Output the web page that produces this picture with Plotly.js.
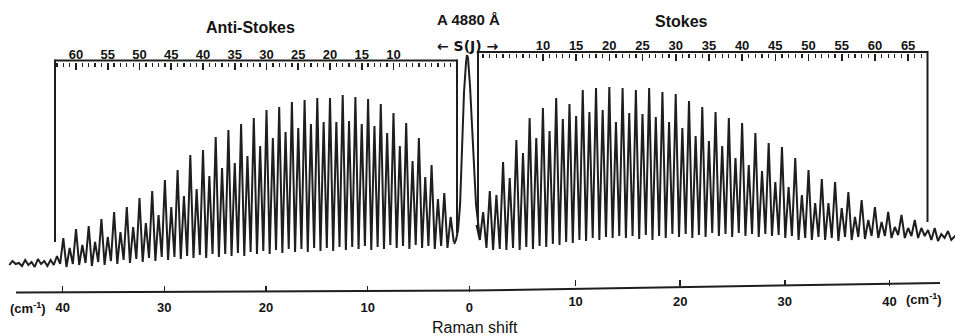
<!DOCTYPE html>
<html><head><meta charset="utf-8">
<script src="https://cdn.plot.ly/plotly-3.0.1.min.js"></script>
<style>html,body{margin:0;padding:0;background:#fff}#chart{width:955px;height:336px}</style>
</head><body><div id="chart"></div>
<script>
// ---- Data (intensity in arbitrary units) ----
// Anti-Stokes S(J) lines
const antiStokesJ = [1,2,3,4,5,6,7,8,9,10,11,12,13,14,15,16,17,18,19,20,21,22,23,24,25,26,27,28,29,30,31,32,33,34,35,36,37,38,39,40,41,42,43,44,45,46,47,48,49,50,51,52,53,54,55,56,57,58,59,60,61,62];
const antiStokesPeak = [53,77,71,105,93,132,109,147,124,157,137,166,144,171,146,173,149,175,148,172,148,172,146,170,142,168,138,163,132,160,124,152,114,146,107,140,102,133,94,120,81,115,74,100,63,90,55,79,47,72,43,63,38,58,33,51,28,44,25,41,22,32];
// valley level just outside each line (first value: inside J=1)
const antiStokesValley = [28,22,24,21,24,22,25,21,24,22,25,21,23,20,24,21,23,20,23,19,22,19,22,18,21,18,21,17,20,16,19,16,18,14,17,14,16,13,16,12,15,12,14,11,13,10,13,9,12,8,11,7,10,6,9,5,8,4,7,5,6,3,6];
// baseline noise beyond the anti-Stokes scale
const antiStokesTailJ = [63,63.5,64,64.5,65,65.5,66,66.5,67,67.5,68,68.5,69,69.5,70,70.5];
const antiStokesTailI = [14,5,10,4,9,6,11,3,8,5,10,4,7,6,9,5];

// Stokes S(J) lines
const stokesJ = [0,1,2,3,4,5,6,7,8,9,10,11,12,13,14,15,16,17,18,19,20,21,22,23,24,25,26,27,28,29,30,31,32,33,34,35,36,37,38,39,40,41,42,43,44,45,46,47,48,49,50,51,52,53,54,55,56,57,58,59,60,61,62,63,64,65,66,67];
const stokesPeak = [45,58,79,75,108,92,130,117,152,132,162,139,172,151,166,154,180,158,182,160,183,148,182,157,180,156,182,153,178,148,176,142,169,134,163,129,158,124,152,112,147,105,137,99,127,88,123,83,112,75,100,67,91,67,88,62,78,53,70,50,63,48,58,43,55,42,50,42];
const stokesValley = [30,22,20,21,20,22,20,23,21,24,23,26,25,28,27,30,29,32,30,33,32,34,32,34,31,35,30,34,32,36,33,36,32,35,33,37,34,36,33,37,34,36,33,36,34,35,32,34,30,32,30,33,30,32,29,33,30,33,31,34,32,34,32,35,32,34,32,34];
const stokesTailJ = [68,68.5,69,69.5,70,70.5,71,71.5,72.2];
const stokesTailI = [40,30,42,29,36,32,39,30,35];

// Rayleigh (exciting) line, Raman shift in cm-1: anti-Stokes flank and Stokes flank
const rayleighAntiShift = [1.51,1.32,1.12,0.92,0.73,0.53,0.33,0.24];
const rayleighAntiI = [26,30,40,65,120,178,208,215];
const rayleighStokesShift = [-0.38,-0.29,-0.1,0.1,0.29,0.48,0.67,0.86];
const rayleighStokesI = [215,212,185,140,95,65,48,30];

// Axis tick labels
const shiftTicksLeft = [0,10,20,30,40];
const shiftTicksRight = [10,20,30,40];
const antiStokesLabels = [10,15,20,25,30,35,40,45,50,55,60];
const stokesLabels = [10,15,20,25,30,35,40,45,50,55,60,65];

// ---- Build line paths (peak, then valley half-way to next line) ----
function spectrumPath(J, peak, valley, tailJ, tailI, valleyFirst) {
  const x = [], y = [];
  if (valleyFirst) { x.push(J[0] - 0.5); y.push(valley[0]); }
  const off = valleyFirst ? 1 : 0;
  for (let i = 0; i < J.length; i++) {
    x.push(J[i]); y.push(peak[i]);
    x.push(J[i] + 0.5); y.push(valley[i + off]);
  }
  for (let i = 0; i < tailJ.length; i++) { x.push(tailJ[i]); y.push(tailI[i]); }
  return {x, y};
}
const asPath = spectrumPath(antiStokesJ, antiStokesPeak, antiStokesValley, antiStokesTailJ, antiStokesTailI, true);
const stPath = spectrumPath(stokesJ, stokesPeak, stokesValley, stokesTailJ, stokesTailI, false);

const ink = '#1e1e1e';
const lineStyle = {color: ink, width: 2};
const traces = [
  {type:'scatter', mode:'lines', x: asPath.x, y: asPath.y, xaxis:'x2', yaxis:'y', line: lineStyle, hoverinfo:'skip'},
  {type:'scatter', mode:'lines', x: stPath.x, y: stPath.y, xaxis:'x3', yaxis:'y', line: lineStyle, hoverinfo:'skip'},
  {type:'scatter', mode:'lines', x: rayleighAntiShift, y: rayleighAntiI, xaxis:'x', yaxis:'y', line: lineStyle, hoverinfo:'skip'},
  {type:'scatter', mode:'lines', x: rayleighStokesShift, y: rayleighStokesI, xaxis:'x4', yaxis:'y', line: lineStyle, hoverinfo:'skip'}
];

// ---- Layout helpers (pixel -> paper) ----
const W = 955, H = 336;
const PX = p => p / W, PY = p => 1 - p / H;
const font = 'Liberation Sans, Arial, Helvetica, sans-serif';
const textColor = '#141414';

const asMinor = [], stMinor = [];
for (let j = 0; j <= 63; j++) asMinor.push(j);
for (let j = 1; j <= 67; j++) stMinor.push(j);

const rulerAxis = (range, pos, labels, minor) => ({
  domain:[0,1], range: range, anchor:'free', position: PY(pos), side:'top',
  tickmode:'array', tickvals: labels, ticktext: labels.map(String),
  ticks:'inside', ticklen:7, tickwidth:1.6, tickcolor: ink,
  minor: {tickmode:'array', tickvals: minor, ticks:'inside', ticklen:4, tickwidth:1.3, tickcolor: ink},
  showline:false, showgrid:false, zeroline:false, fixedrange:true,
  tickfont:{family: font, size:13, color: textColor, weight:'bold'}, ticklabelstandoff: 0
});
const shiftAxis = (range, pos, ticks) => ({
  domain:[0,1], range: range, anchor:'free', position: PY(pos), side:'bottom',
  tickmode:'array', tickvals: ticks, ticktext: ticks.map(String),
  ticks:'inside', ticklen:6, tickwidth:1.5, tickcolor: ink,
  showline:false, showgrid:false, zeroline:false, fixedrange:true,
  tickfont:{family: font, size:13, color: textColor, weight:'bold'}, ticklabelstandoff: 6
});

const seg = (x0,y0,x1,y1,w) => ({type:'line', xref:'paper', yref:'paper',
  x0:PX(x0), y0:PY(y0), x1:PX(x1), y1:PY(y1), line:{color: ink, width: w || 2}});
const txt = (t, x, y, size, xanchor, fam, weight) => ({text: t, xref:'paper', yref:'paper', x: PX(x), y: PY(y),
  xanchor: xanchor || 'center', yanchor:'middle', showarrow:false,
  font:{family: fam || font, size: size, color: textColor, weight: weight || 'normal'}});

const layout = {
  width: W, height: H, margin:{l:0, r:0, t:0, b:0},
  paper_bgcolor:'#ffffff', plot_bgcolor:'rgba(0,0,0,0)', showlegend:false,
  font:{family: font, color: textColor},
  yaxis:{domain:[0,1], range:[-66, 270], visible:false, fixedrange:true, anchor:'x'},
  xaxis:  shiftAxis([46.16, -47.75], 291.5, shiftTicksLeft),
  xaxis4: shiftAxis([-45.03, 46.27], 286, shiftTicksRight),
  xaxis2: rulerAxis([71.97, -78.43], 61.5, antiStokesLabels, asMinor),
  xaxis3: rulerAxis([-71.76, 72.06], 52.5, stokesLabels, stMinor),
  shapes: [
    seg(55,60.5,457,60.5), seg(55,59.5,55,242), seg(457,59.5,457,233),
    seg(478,52,928,52), seg(478,51,478,230), seg(927.5,51,927.5,222),
    seg(16,292.5,471,290.5), seg(471,290.5,940,283)
  ],
  annotations: [
    txt('Anti-Stokes', 250, 27, 16, 'center', null, 'bold'),
    txt('A 4880 Å', 468, 19, 15, 'center', null, 'bold'),
    txt('\u2190 S(J) \u2192', 468, 46, 14, 'center', 'DejaVu Sans, sans-serif', 'bold'),
    txt('Stokes', 681, 22, 16, 'center', null, 'bold'),
    txt('Raman shift', 475, 327, 16),
    txt('(cm<sup>-1</sup>)', 48, 308, 13, 'right', null, 'bold'),
    txt('(cm<sup>-1</sup>)', 904, 299, 13, 'left', null, 'bold')
  ]
};

Plotly.newPlot('chart', traces, layout, {staticPlot:true, displayModeBar:false});
</script>
</body></html>
